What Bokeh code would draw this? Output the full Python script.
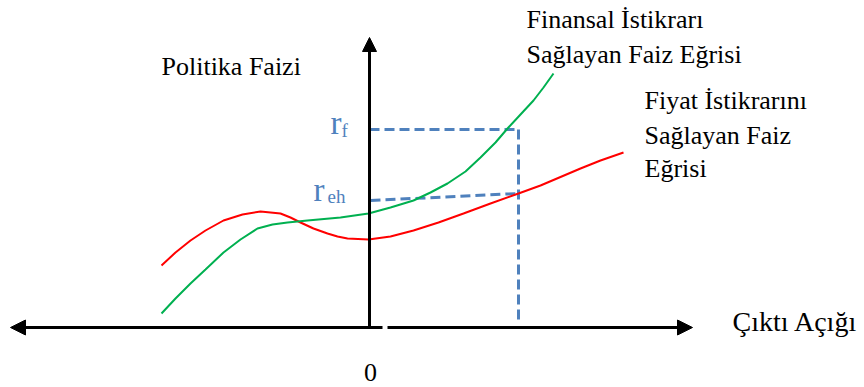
from bokeh.plotting import figure
from bokeh.models import Range1d, Arrow, NormalHead
from bokeh.core.properties import value
from bokeh.embed import file_html
from bokeh.resources import INLINE

# ---- Data (diagram units: x = output gap, y = policy rate) ----
# Financial-stability rate curve (green)
fin_x = [-20.8, -19.4, -17.9, -16.4, -14.6, -12.9, -11.2, -9.7, -8.2, -6.2, -2.9, -0.1,
         2.1, 4.4, 6.1, 7.8, 9.6, 11.1, 12.6, 13.8, 15.1, 16.4, 17.4, 18.4]
fin_y = [1.4, 2.9, 4.4, 5.8, 7.5, 8.8, 9.9, 10.3, 10.5, 10.7, 11.0, 11.4,
         12.0, 12.7, 13.5, 14.4, 15.6, 17.0, 18.5, 19.9, 21.3, 22.7, 24.0, 25.4]
# Price-stability rate curve (red)
pri_x = [-20.8, -19.4, -17.9, -16.4, -14.6, -12.7, -10.9, -8.9, -7.9, -6.9, -5.6, -4.2,
         -3.2, -2.2, -0.1, 2.1, 4.4, 6.9, 9.4, 12.1, 14.9, 17.1, 21.1, 23.1, 25.4]
pri_y = [6.2, 7.5, 8.7, 9.7, 10.7, 11.3, 11.6, 11.4, 11.0, 10.5, 9.9, 9.4,
         9.1, 8.9, 8.8, 9.1, 9.7, 10.5, 11.4, 12.4, 13.4, 14.2, 15.9, 16.7, 17.5]
# Reference levels
x_gap = 14.9          # output gap considered
r_f = 19.8            # financial-stability rate
r_eh_axis = 12.7      # price-stability rate (label level at axis)
r_eh_curve = 13.4     # price-stability rate at x_gap

# ---- Figure ----
p = figure(width=864, height=387, output_backend="svg", toolbar_location=None,
           x_range=Range1d(-36.9, 49.5), y_range=Range1d(-6.0, 32.7),
           x_axis_type=None, y_axis_type=None, min_border=0)
p.outline_line_color = None
p.grid.visible = False
p.background_fill_color = "white"
p.border_fill_color = "white"

FONT = value("Liberation Serif")
BLUE = "#4F81BD"

# Axes with arrows
p.add_layout(Arrow(end=NormalHead(size=15, fill_color="black", line_color="black"),
                   x_start=1.3, y_start=0, x_end=-35.9, y_end=0,
                   line_width=3, line_color="black"))
p.add_layout(Arrow(end=NormalHead(size=15, fill_color="black", line_color="black"),
                   x_start=1.8, y_start=0, x_end=32.3, y_end=0,
                   line_width=3, line_color="black"))
p.add_layout(Arrow(end=NormalHead(size=14, fill_color="black", line_color="black"),
                   x_start=0, y_start=0, x_end=0, y_end=29.0,
                   line_width=3, line_color="black"))

# Dashed guide lines
p.line([0, x_gap], [r_f, r_f], line_color=BLUE, line_width=3, line_dash="10 5")
p.line([x_gap, x_gap], [r_f, 0.3], line_color=BLUE, line_width=3, line_dash="10 5")
p.line([0.1, x_gap], [r_eh_axis, r_eh_curve], line_color=BLUE, line_width=3, line_dash="10 5")

# Curves
p.line(pri_x, pri_y, line_color="#FF0000", line_width=2)
p.line(fin_x, fin_y, line_color="#00B050", line_width=2)

# Texts
p.text(x=[-20.8], y=[26.1], text=["Politika Faizi"], text_font=FONT,
       text_font_size="26px", text_baseline="middle", text_color="black")
p.text(x=[15.7, 15.7], y=[30.8, 27.3], text=["Finansal İstikrarı", "Sağlayan Faiz Eğrisi"],
       text_font=FONT, text_font_size="26px", text_baseline="middle", text_color="black")
p.text(x=[27.5, 27.5, 27.5], y=[22.7, 19.2, 15.9],
       text=["Fiyat İstikrarını", "Sağlayan Faiz", "Eğrisi"],
       text_font=FONT, text_font_size="26px", text_baseline="middle", text_color="black")
p.text(x=[36.3], y=[0.6], text=["Çıktı Açığı"], text_font=FONT,
       text_font_size="28px", text_baseline="middle", text_color="black")
p.text(x=[0.1], y=[-4.45], text=["0"], text_font=FONT, text_font_size="26px",
       text_baseline="middle", text_align="center", text_color="black")

# r_f and r_eh labels (main letter + subscript)
p.text(x=[-3.9, -5.6], y=[20.5, 13.8], text=["r", "r"], text_font=FONT,
       text_font_size="33px", text_baseline="middle", text_color=BLUE)
p.text(x=[-2.8, -4.2], y=[19.7, 13.1], text=["f", "eh"], text_font=FONT,
       text_font_size="19px", text_baseline="middle", text_color=BLUE)

open("out.html", "w").write(file_html(p, INLINE))
